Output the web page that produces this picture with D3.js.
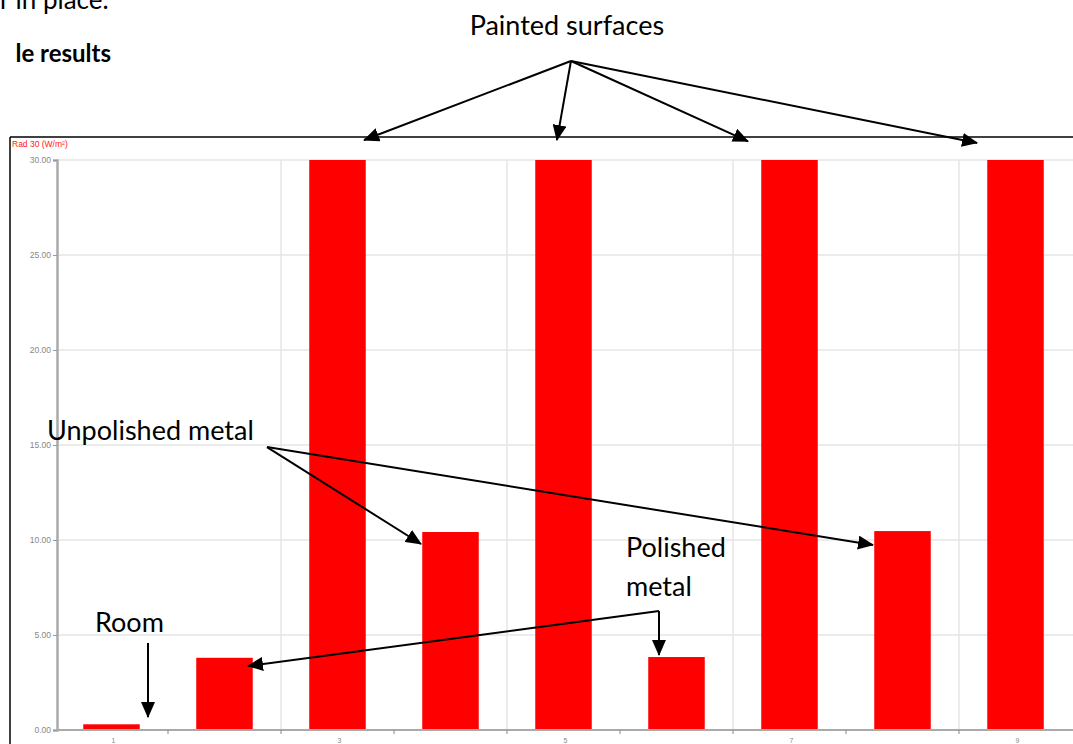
<!DOCTYPE html>
<html>
<head>
<meta charset="utf-8">
<script src="https://cdn.jsdelivr.net/npm/d3@7"></script>
<style>
html,body{margin:0;padding:0;background:#fff;overflow:hidden;}
svg{display:block;}
</style>
</head>
<body>
<svg id="chart" width="1073" height="744"></svg>
<script>
// ---- data ----
const categories = ["1","2","3","4","5","6","7","8","9"];
const values = [0.3, 3.8, 30, 10.42, 30, 3.84, 30, 10.47, 30];
const xTickLabels = ["1","3","5","7","9"];
const yTicks = [0,5,10,15,20,25,30];
const yAxisTitle = "Rad 30 (W/m\u00B2)";
// annotations in data units: c = category position (1..9), v = value
const annTexts = [
  {text:"Painted surfaces", c:5.03, v:36.58, anchor:"middle"},
  {text:"Unpolished metal", c:0.43, v:15.26, anchor:"start"},
  {text:"Polished", c:5.553, v:9.1, anchor:"start"},
  {text:"metal", c:5.553, v:7.05, anchor:"start"},
  {text:"Room", c:0.854, v:5.16, anchor:"start"}
];
const annArrows = [
  {from:[5.066,35.21], to:[3.235,31.05]},
  {from:[5.066,35.21], to:[4.942,31.05]},
  {from:[5.066,35.21], to:[6.633,30.98]},
  {from:[5.066,35.21], to:[8.66,30.9]},
  {from:[2.376,14.89], to:[3.739,9.79]},
  {from:[2.376,14.89], to:[7.739,9.74]},
  {from:[5.845,6.26], to:[5.845,3.95]},
  {from:[5.845,6.26], to:[2.208,3.37]},
  {from:[1.323,4.58], to:[1.323,0.68]}
];

// ---- layout ----
const svg = d3.select("#chart");
const X0 = 55, X1 = 1072, Y0 = 730, Y1 = 160;

const x = d3.scaleBand().domain(categories).range([X0, X1]).paddingInner(0.5).paddingOuter(0.25);
const xc = d3.scaleLinear().domain([0.5, 9.5]).range([X0, X1]);
const y = d3.scaleLinear().domain([0, 30]).range([Y0, Y1]);

// page text above chart
svg.append("text").attr("x", 0).attr("y", 9).attr("font-family","Lato").attr("font-size",26).attr("fill","#000").text("r in place.");
svg.append("text").attr("x", 111).attr("y", 62).attr("text-anchor","end").attr("font-family","Lato").attr("font-weight","bold").attr("font-size",24).attr("fill","#000").text("le results");

// horizontal gridlines
svg.append("g").selectAll("line").data(yTicks).join("line")
  .attr("x1", 57).attr("x2", 1073).attr("y1", d=>y(d)).attr("y2", d=>y(d))
  .attr("stroke","#e6e6e6").attr("stroke-width",1.5);

// vertical gridlines at every second boundary
const boundaries = d3.range(1, 9).map(i => xc(i + 0.5));
svg.append("g").selectAll("line").data(boundaries.filter((d,i)=> i%2===1)).join("line")
  .attr("x1", d=>d).attr("x2", d=>d).attr("y1", Y1).attr("y2", Y0)
  .attr("stroke","#e6e6e6").attr("stroke-width",1.5);

// bars
svg.append("g").selectAll("rect").data(values).join("rect")
  .attr("x", (d,i)=>x(categories[i])).attr("width", x.bandwidth())
  .attr("y", d=>y(d)).attr("height", d=>Y0 - y(d))
  .attr("fill","#ff0000");

// y axis
const yAxis = d3.axisLeft(y).tickValues(yTicks).tickFormat(d3.format(".2f")).tickSize(4).tickPadding(2);
const gy = svg.append("g").attr("transform","translate(57,0)").call(yAxis);
gy.select(".domain").attr("stroke","#aaa").attr("stroke-width",2.5);
gy.selectAll(".tick line").attr("stroke","#999");
gy.selectAll("text").attr("fill","#888").attr("font-family","Liberation Sans").attr("font-size",8.5);

// x axis
const gx = svg.append("g").attr("transform",`translate(0,${Y0})`);
gx.append("line").attr("x1",57).attr("x2",1073).attr("y1",0).attr("y2",0).attr("stroke","#aaa").attr("stroke-width",2);
gx.selectAll("line.tk").data(boundaries).join("line").attr("class","tk")
  .attr("x1",d=>d).attr("x2",d=>d).attr("y1",0).attr("y2",4).attr("stroke","#888");
gx.selectAll("text").data(xTickLabels).join("text")
  .attr("x", d=>x(d) + x.bandwidth()/2 + 2).attr("y", 13)
  .attr("text-anchor","middle").attr("fill","#888").attr("font-family","Liberation Sans").attr("font-size",7).text(d=>d);

// axis title
svg.append("text").attr("x",12).attr("y",147).attr("fill","#ff2020").attr("font-family","Liberation Sans").attr("font-size",8.5).text(yAxisTitle);

// frame lines
svg.append("line").attr("x1",10).attr("x2",1073).attr("y1",137).attr("y2",137).attr("stroke","#000").attr("stroke-width",1.5);
svg.append("line").attr("x1",10).attr("x2",10).attr("y1",137).attr("y2",744).attr("stroke","#000").attr("stroke-width",1.5);

// arrowhead marker
svg.append("defs").append("marker").attr("id","ah")
  .attr("viewBox","0 0 16 14").attr("refX",15).attr("refY",7)
  .attr("markerWidth",16).attr("markerHeight",14).attr("markerUnits","userSpaceOnUse")
  .attr("orient","auto")
  .append("path").attr("d","M0,0 L16,7 L0,14 Z").attr("fill","#000");

// arrows
svg.append("g").selectAll("line").data(annArrows).join("line")
  .attr("x1",d=>xc(d.from[0])).attr("y1",d=>y(d.from[1]))
  .attr("x2",d=>xc(d.to[0])).attr("y2",d=>y(d.to[1]))
  .attr("stroke","#000").attr("stroke-width",2).attr("marker-end","url(#ah)");

// annotation texts
svg.append("g").selectAll("text").data(annTexts).join("text")
  .attr("x",d=>xc(d.c)).attr("y",d=>y(d.v)).attr("text-anchor",d=>d.anchor)
  .attr("font-family","Lato").attr("font-size",27).attr("fill","#000").text(d=>d.text);
</script>
</body>
</html>
